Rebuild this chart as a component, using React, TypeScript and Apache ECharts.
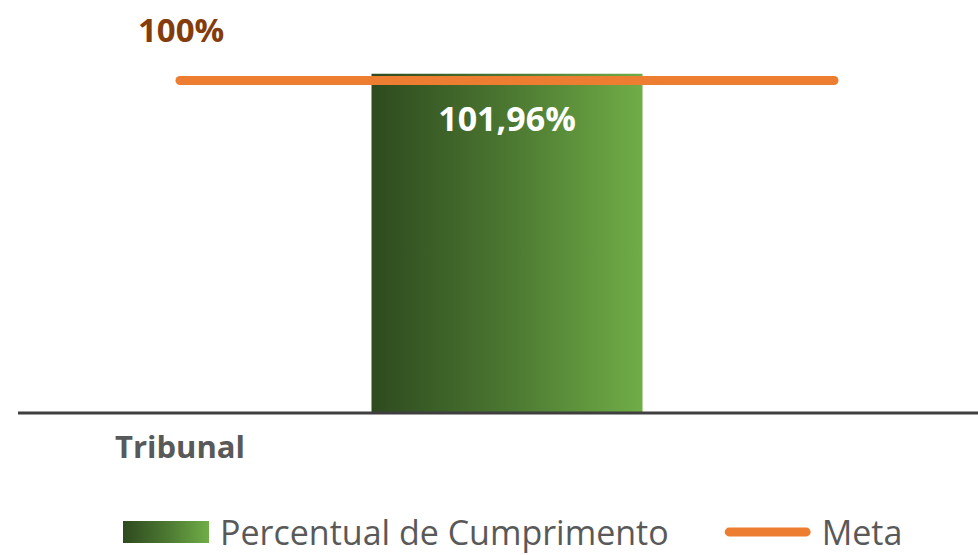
import React, { useEffect, useRef } from "react";
import * as echarts from "echarts";

const categories = ["Tribunal"];
const percentualCumprimento = [101.96];
const metaValue = [100];
const seriesNames = ["Percentual de Cumprimento", "Meta"];

export default function App() {
  const ref = useRef<HTMLDivElement>(null);
  useEffect(() => {
    if (!ref.current) return;
    const chart = echarts.init(ref.current, undefined, { renderer: "svg" });
    const fmt = (v: number) => v.toFixed(2).replace(".", ",") + "%";
    const fmtInt = (v: number) => String(Math.round(v)) + "%";
    const pill = "path://M4.5,0 L83.5,0 A4.5,4.5 0 0 1 83.5,9 L4.5,9 A4.5,4.5 0 0 1 4.5,0 Z";
    chart.setOption({
      animation: false,
      textStyle: { fontFamily: "Open Sans" },
      grid: { left: 180, right: 144, top: 47, bottom: 142 },
      xAxis: {
        type: "category",
        data: categories,
        axisLine: { show: false },
        axisTick: { show: false },
        axisLabel: { show: false },
      },
      yAxis: { type: "value", min: 0, max: 110, show: false },
      legend: {
        left: 123,
        top: 515,
        padding: 0,
        itemWidth: 86,
        itemHeight: 22,
        itemGap: 56,
        textStyle: { fontSize: 34, color: "#595959", padding: [0, 0, 0, 6] },
        data: [
          { name: seriesNames[0], icon: "rect" },
          { name: seriesNames[1], icon: pill },
        ],
      },
      series: [
        {
          name: seriesNames[0],
          type: "bar",
          data: percentualCumprimento,
          barWidth: 271,
          itemStyle: {
            color: new echarts.graphic.LinearGradient(0, 0, 1, 0, [
              { offset: 0, color: "#2E4A1F" },
              { offset: 0.5, color: "#4B7731" },
              { offset: 1, color: "#70AD47" },
            ]),
          },
          label: {
            show: true,
            position: "insideTop",
            distance: 27,
            color: "#ffffff",
            fontWeight: "bold",
            fontSize: 34,
            formatter: (p: any) => fmt(p.value),
          },
          z: 2,
        },
        {
          name: seriesNames[1],
          type: "line",
          data: metaValue,
          symbol: "none",
          lineStyle: { color: "#ED7D31", width: 9, cap: "round" },
          itemStyle: { color: "#ED7D31" },
          z: 3,
          markLine: {
            silent: true,
            symbol: "none",
            data: [{ yAxis: metaValue[0] }],
            lineStyle: { color: "#ED7D31", width: 9, type: "solid", cap: "round" },
            label: {
              show: true,
              position: "insideStartTop",
              distance: [-42, 34],
              color: "#843C0C",
              fontWeight: "bold",
              fontSize: 33,
              formatter: (p: any) => fmtInt(p.value),
            },
            z: 3,
          },
        },
      ],
      graphic: [
        {
          type: "line",
          shape: { x1: 18, y1: 413, x2: 978, y2: 413 },
          style: { stroke: "#3F3F3F", lineWidth: 3 },
          z: 10,
        },
        {
          type: "text",
          left: 115,
          top: 430,
          style: {
            text: categories[0],
            fill: "#595959",
            fontWeight: "bold",
            fontSize: 31,
            fontFamily: "Open Sans",
          },
        },
      ],
    });
    return () => chart.dispose();
  }, []);
  return <div ref={ref} style={{ width: 978, height: 555, position: "absolute", left: 0, top: 0 }} />;
}
